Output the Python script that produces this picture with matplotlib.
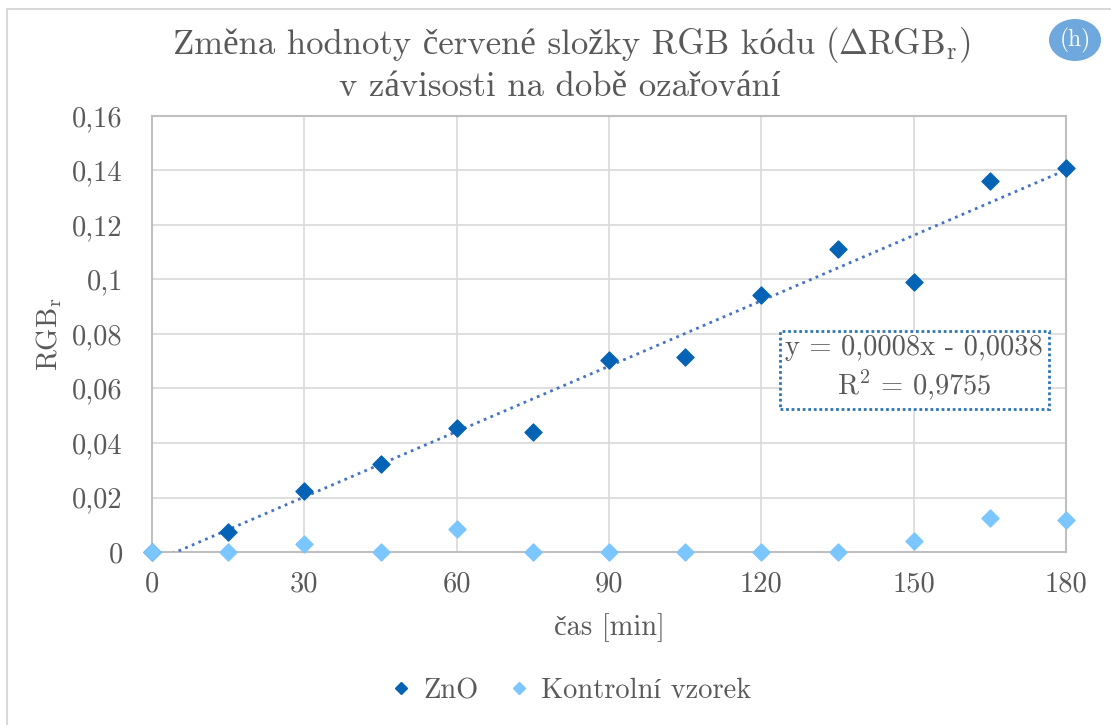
import numpy as np
import matplotlib
matplotlib.use("Agg")
import matplotlib.pyplot as plt
from matplotlib.patches import Ellipse, Rectangle
from matplotlib.lines import Line2D
from matplotlib.ticker import FuncFormatter

plt.rcParams['font.family'] = ['cmr10', 'Liberation Serif']
plt.rcParams['mathtext.fontset'] = 'cm'
plt.rcParams['axes.unicode_minus'] = False

# irradiation time [min]
time_min = [0, 15, 30, 45, 60, 75, 90, 105, 120, 135, 150, 165, 180]
# change of red RGB component
zno = [0.0, 0.0073, 0.0224, 0.0323, 0.0455, 0.0440, 0.0705, 0.0716,
       0.0943, 0.1112, 0.0991, 0.1361, 0.1409]
control = [0.0, 0.0, 0.0030, 0.0, 0.0084, 0.0, 0.0, 0.0, 0.0, 0.0,
           0.0040, 0.0125, 0.0117]

# linear trend of the ZnO series
slope = 0.0008
intercept = -0.0038
r2 = 0.9755

x_ticks = [0, 30, 60, 90, 120, 150, 180]
y_ticks = [0, 0.02, 0.04, 0.06, 0.08, 0.1, 0.12, 0.14, 0.16]

text_col = '#595959'
dark_blue = '#0563b5'
light_blue = '#7cc6ff'

W, H = 1111, 725


def cz(v, pos=None):
    s = ('%.2f' % v).rstrip('0').rstrip('.')
    return s.replace('.', ',')


fig = plt.figure(figsize=(W / 100, H / 100), dpi=100)
ax = fig.add_axes([152 / W, 1 - 552 / H, 914 / W, 436 / H])

# outer frame of the chart area
fig.patches.append(Rectangle((7 / W, -0.1), 1.2, 1 - 9 / H + 0.1,
                             transform=fig.transFigure, fill=False,
                             edgecolor='#d9d9d9', linewidth=1.5))

ax.set_xlim(0, 180)
ax.set_ylim(0, 0.16)
ax.set_xticks(x_ticks)
ax.set_yticks(y_ticks)
ax.yaxis.set_major_formatter(FuncFormatter(cz))
ax.grid(True, color='#d9d9d9', linewidth=1.2)
ax.set_axisbelow(True)
for sp in ax.spines.values():
    sp.set_color('#bfbfbf')
    sp.set_linewidth(1.5)
ax.tick_params(length=0, labelsize=20.5, colors=text_col)
ax.tick_params(axis='y', pad=21)
ax.tick_params(axis='x', pad=14)

# trend line, clipped by the axes at y = 0
xt = np.array([0, 180])
ax.plot(xt, slope * xt + intercept, color='#4472c4', linestyle=(0, (1, 1.6)),
        linewidth=2, zorder=3)

ax.scatter(time_min, zno, marker='D', s=75, color=dark_blue, zorder=4,
           clip_on=False)
ax.scatter(time_min, control, marker='D', s=75, color=light_blue, zorder=5,
           clip_on=False)

ax.set_xlabel('čas [min]', fontsize=20.5, color=text_col, labelpad=11)
ax.set_ylabel(r'RGB$_\mathrm{r}$', fontsize=20.5, color=text_col, labelpad=6)

eq = 'y = %s' % ('%.4f' % slope).replace('.', ',')
eq += 'x - %s\n' % ('%.4f' % -intercept).replace('.', ',')
eq += r'R$^2$ = ' + ('%.4f' % r2).replace('.', ',')
ax.text(0.834, 0.42, eq, transform=ax.transAxes, ha='center', va='center',
        fontsize=20.5, color=text_col, linespacing=1.3,
        bbox=dict(boxstyle='square,pad=0.2', facecolor='white',
                  edgecolor='#2e75b6', linestyle=(0, (1, 1)), linewidth=2))

# title: plain part and math part placed side by side on one baseline
renderer = fig.canvas.get_renderer()
ty1 = 1 - 54 / H
t1 = fig.text(0, ty1, 'Změna hodnoty červené složky RGB kódu',
              ha='left', va='baseline', fontsize=25, color=text_col)
b1 = t1.get_window_extent(renderer)
gap = 10
t2 = fig.text((b1.x1 + gap) / W, ty1, r'$(\Delta\mathrm{RGB}_\mathrm{r})$',
              ha='left', va='baseline', fontsize=25, color=text_col)
b2 = t2.get_window_extent(renderer)
x_start = 572 - (b2.x1 - b1.x0) / 2
t1.set_x(x_start / W)
t2.set_x((x_start + b1.width + gap) / W)
fig.text(560 / W, 1 - 96 / H, 'v závisosti na době ozařování',
         ha='center', va='baseline', fontsize=25, color=text_col)

# "(h)" badge in the corner
fig.patches.append(Ellipse((1075 / W, 1 - 40 / H), 52 / W, 42 / H,
                           transform=fig.transFigure, facecolor='#6fa8dc',
                           edgecolor='none'))
fig.text(1075 / W, 1 - 40 / H, '(h)', ha='center', va='center',
         fontsize=17, color='white')

handles = [Line2D([], [], marker='D', linestyle='none', color=dark_blue,
                  markersize=6),
           Line2D([], [], marker='D', linestyle='none', color=light_blue,
                  markersize=6)]
fig.legend(handles, ['ZnO', 'Kontrolní vzorek'], loc='center',
           bbox_to_anchor=(569 / W, 1 - 691 / H), ncol=2, frameon=False,
           fontsize=20.5, labelcolor=text_col, handletextpad=0.3,
           columnspacing=0.9, handlelength=1)

fig.savefig('out.png', dpi=100)
